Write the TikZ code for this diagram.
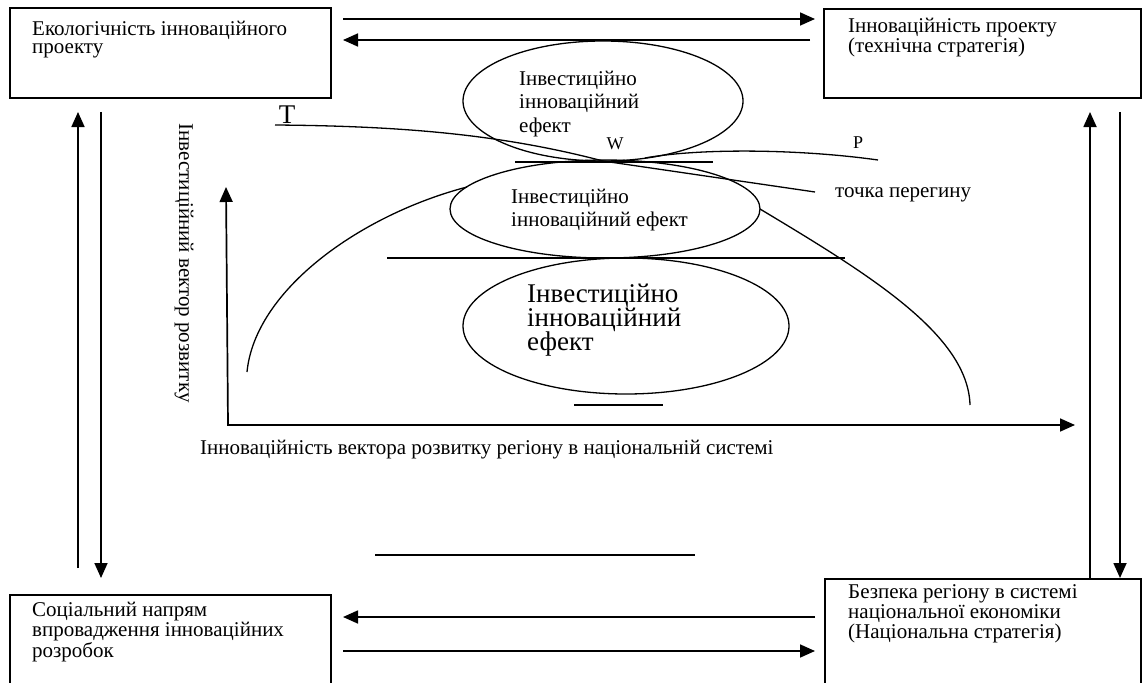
\documentclass[tikz,border=0pt]{standalone}
\usepackage{fontspec}
\setmainfont{Liberation Serif}
\usetikzlibrary{arrows.meta,positioning,shapes.geometric,calc}

\begin{document}
\begin{tikzpicture}[x=1pt,y=-1pt,
  block/.style={draw,line width=1.6pt,rectangle,anchor=north west,inner sep=0pt,outer sep=0pt},
  txt/.style={anchor=base west,inner sep=0pt,align=left,font=\fontsize{21}{17.5}\selectfont},
  efx/.style={anchor=base west,inner sep=0pt,align=left,font=\fontsize{21}{23.5}\selectfont},
  oval/.style={draw,ellipse,line width=1.3pt,inner sep=0pt,outer sep=0pt},
  lbl/.style={inner sep=0pt,font=\fontsize{18}{18}\selectfont},
  arr/.style={-{Triangle[length=15pt,width=13pt]},line width=1.7pt},
  axis/.style={{Triangle[length=15pt,width=13pt]}-{Triangle[length=15pt,width=13pt]},line width=1.7pt},
  crv/.style={line width=1.3pt}
]
\clip (0,0) rectangle (1142,682);
% four blocks (text anchored at the last line)
\node[block,minimum width=321,minimum height=90] (eco) at (10,8) {};
\node[block,minimum width=317,minimum height=89] (innov) at (824,9) {};
\node[block,minimum width=321,minimum height=110] (soc) at (10,595) {};
\node[block,minimum width=316,minimum height=125] (safe) at (825,579) {};
\node[txt] (ecot) at (32,53.5) {Екологічність інноваційного\\проекту};
\node[txt] (innovt) at (848,52.5) {Інноваційність проекту\\(технічна стратегія)};
\node[txt] (soct) at (32,657) {Соціальний напрям\\впровадження інноваційних\\розробок};
\node[txt] (safet) at (848,638) {Безпека регіону в системі\\національної економіки\\(Національна стратегія)};

% links between blocks
\draw[arr] ($(eco.north east)+(12,11)$) -- ($(innov.north west)+(-9,10)$);
\draw[arr] ($(innov.north west)+(-14,31)$) -- ($(eco.north east)+(12,32)$);
\draw[arr] ($(safe.north west)+(-10,38)$) -- ($(soc.north east)+(12,22)$);
\draw[arr] ($(soc.north east)+(12,56)$) -- ($(safe.north west)+(-10,72)$);
\draw[arr] ($(soc.north west)+(68,-27)$) -- ($(eco.south west)+(68,14)$);
\draw[arr] ($(eco.south west)+(91,14)$) -- ($(soc.north west)+(91,-17)$);
\draw[arr] ($(safe.north west)+(265,0)$) -- ($(innov.south west)+(266,14)$);
\draw[arr] ($(innov.south west)+(296,14)$) -- ($(safe.north west)+(295,-1)$);

% effects
\node[oval,minimum width=280,minimum height=120] (e1) at (603,101) {};
\node[oval,minimum width=310,minimum height=98] (e2) at (605,209) {};
\node[oval,minimum width=326,minimum height=136] (e3) at (626,326) {};
\node[efx] (e1t) at (519,132) {Інвестиційно\\інноваційний\\ефект};
\node[efx] (e2t) at (511,226.5) {Інвестиційно\\інноваційний ефект};
\node[efx,font=\fontsize{27}{24}\selectfont] (e3t) at (527,350) {Інвестиційно\\інноваційний\\ефект};
\draw[crv] ($(e1.south)+(-88,1)$) -- ($(e1.south)+(110,1)$);
\draw[crv] ($(e2.south)+(-218,0)$) -- ($(e2.south)+(240,0)$);
\draw[crv] ($(e3.south)+(-52,11)$) -- ($(e3.south)+(37,11)$);
\draw[crv] (375,555) -- (695,555);

% curves through W
\node[lbl,font=\fontsize{27}{27}\selectfont] (tl) at (287,115) {T};
\node[lbl] (wl) at (615,144) {W};
\node[lbl] (pl) at (858,143) {P};
\draw[crv] (275,125) .. controls (400,126) and (500,134) .. (e1.south);
\draw[crv] (645,158) .. controls (700,148) and (800,149) .. (878,160);
\draw[crv] (e1.south) -- (815,192);
\node[txt] (bend) at (835,197) {точка перегину};
\draw[crv] (247,372) .. controls (255,290) and (360,215) .. (467,187);
\draw[crv] (e2.east) .. controls (870,275) and (968,335) .. (970,405);

% axes
\coordinate (o) at (228,425);
\coordinate (ytop) at (226,187);
\coordinate (xend) at (1075,425);
\draw[axis] (ytop) -- (o) -- (xend);
\node[txt] (xlab) at (200,454) {Інноваційність вектора розвитку регіону в національній системі};
\node[inner sep=0pt,font=\fontsize{21}{21}\selectfont,rotate=-90] (ylab) at (184,263) {Інвестиційний вектор розвитку};
\end{tikzpicture}
\end{document}
